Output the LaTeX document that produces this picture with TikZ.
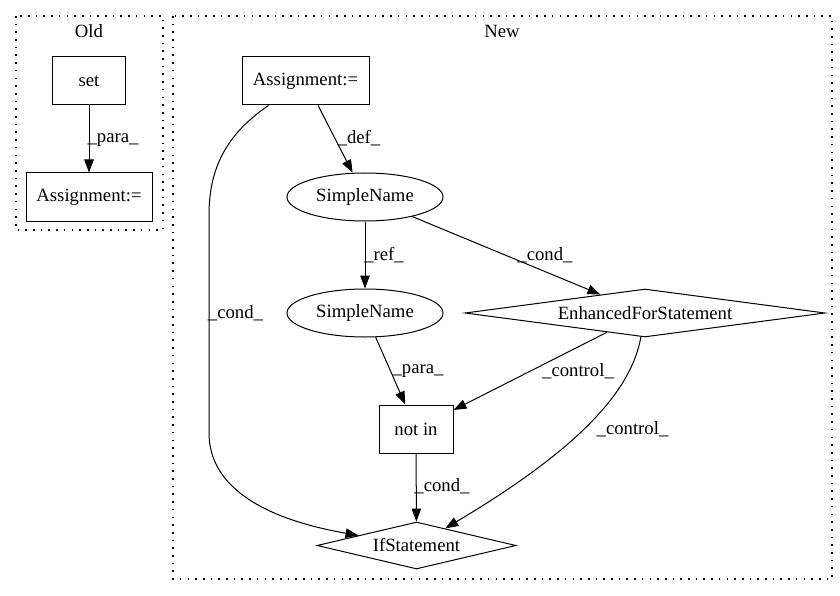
\documentclass[tikz,border=0pt]{standalone}
\usepackage{fontspec}
\setmainfont{Liberation Serif}
\usetikzlibrary{arrows.meta,shapes.geometric}
\begin{document}
\begin{tikzpicture}[x=1pt,y=-1pt,
  every node/.style={font=\fontsize{18.7}{22}\selectfont,inner sep=0pt},
  box/.style={draw,line width=1pt,rectangle,minimum height=48pt},
  ell/.style={draw,line width=1pt,ellipse,minimum width=156pt,minimum height=48pt},
  dia/.style={draw,line width=1pt,diamond,minimum height=48pt},
  clus/.style={line width=1.3pt,dash pattern=on 1.6pt off 6.1pt},
  edge/.style={line width=1pt,-{Triangle[length=13pt,width=9.5pt]}},
  lbl/.style={}]
\useasboundingbox (0,0) rectangle (840,596);
% clusters
\draw[clus] (16,16) rectangle (163,230);
\node (oldlbl) at (89,31) {Old};
\draw[clus] (173,16) rectangle (832,579);
\node (newlbl) at (502,31) {New};
% old nodes
\node[box,minimum width=73pt] (set) at (89,81) {set};
\node[box,minimum width=126pt] (asg1) at (89,197) {Assignment:=};
\draw[edge] (set) -- (asg1);
\node[lbl] (l1) at (113,140) {\_para\_};
% new nodes
\node[box,minimum width=127pt] (asg2) at (305.5,81) {Assignment:=};
\node[ell] (sn1) at (365,197) {SimpleName};
\node[ell] (sn2) at (365,313) {SimpleName};
\node[dia,minimum width=360pt,shape aspect=7.5] (efs) at (645,313) {EnhancedForStatement};
\node[box,minimum width=74pt] (notin) at (416,429) {not in};
\node[dia,minimum width=199pt,minimum height=47pt,shape aspect=4.2] (ifs) at (416.5,545.5) {IfStatement};
% edges
\draw[edge] (asg2) -- (sn1);
\node[lbl] (l2) at (359,138) {\_def\_};
\draw[edge] (sn1) -- (sn2);
\node[lbl] (l3) at (384,255) {\_ref\_};
\draw[edge] (sn1) -- (efs);
\node[lbl] (l4) at (545,255) {\_cond\_};
\draw[edge] ([xshift=-37pt]asg2.south) .. controls (225,135) and (209,170) .. (209,215)
   -- (209,433) .. controls (209,490) and (270,520) .. (ifs);
\node[lbl] (l5) at (235.5,313) {\_cond\_};
\draw[edge] (sn2) -- (notin);
\node[lbl] (l6) at (418,371.5) {\_para\_};
\draw[edge] (efs) -- (notin);
\node[lbl] (l7) at (578,371) {\_control\_};
\draw[edge] (efs) .. controls (630,400) and (560,460) .. (ifs);
\node[lbl] (l8) at (632.5,429) {\_control\_};
\draw[edge] (notin) -- (ifs);
\node[lbl] (l9) at (442,486.5) {\_cond\_};
\end{tikzpicture}
\end{document}
